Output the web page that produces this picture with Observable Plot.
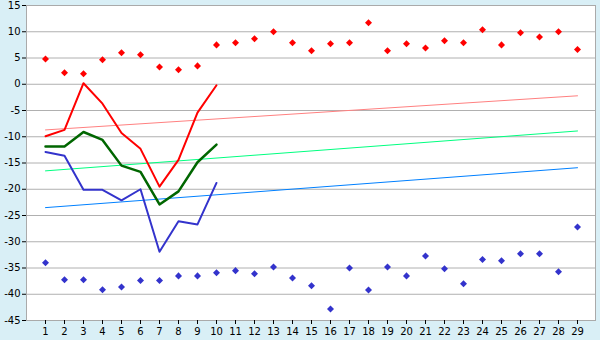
<!DOCTYPE html>
<html>
<head>
<meta charset="utf-8">
<script src="https://cdn.jsdelivr.net/npm/d3@7"></script>
<script src="https://cdn.jsdelivr.net/npm/@observablehq/plot@0.6"></script>
<style>
  html, body { margin: 0; padding: 0; background: #d9eff6; }
  #chart { width: 600px; height: 340px; }
</style>
</head>
<body>
<div id="chart"></div>
<script>
const days = d3.range(1, 30);
const yTicks = [15, 10, 5, 0, -5, -10, -15, -20, -25, -30, -35, -40, -45];

const redPoints = [4.8, 2.2, 2.0, 4.65, 6.0, 5.6, 3.3, 2.75, 3.5, 7.5, 7.9, 8.65, 10.0, 7.9,
  6.4, 7.7, 7.9, 11.7, 6.4, 7.7, 6.9, 8.3, 7.9, 10.4, 7.5, 9.8, 9.0, 10.0, 6.6];
const bluePoints = [-34.0, -37.25, -37.25, -39.15, -38.6, -37.4, -37.4, -36.5, -36.5, -35.9, -35.5, -36.1, -34.8, -36.9,
  -38.4, -42.8, -35.0, -39.2, -34.8, -36.5, -32.7, -35.15, -38.0, -33.4, -33.6, -32.3, -32.3, -35.7, -27.2];

const redLine = [-9.9, -8.7, 0.2, -3.7, -9.3, -12.3, -19.5, -14.4, -5.4, -0.2];
const greenLine = [-11.85, -11.85, -9.1, -10.6, -15.5, -16.7, -22.9, -20.4, -14.85, -11.5];
const blueLine = [-12.9, -13.6, -20.1, -20.1, -22.1, -20.0, -31.9, -26.1, -26.7, -18.8];

const trendDays = [1, 29];
const redTrend = [-8.7, -2.2];
const greenTrend = [-16.5, -8.9];
const blueTrend = [-23.5, -15.9];

const toPts = (vals, xs) => vals.map((v, i) => ({x: xs[i], y: v}));

const chart = Plot.plot({
  width: 600,
  height: 340,
  marginLeft: 26,
  marginRight: 5,
  marginTop: 5,
  marginBottom: 20,
  style: {background: "transparent", fontFamily: "DejaVu Sans, sans-serif", fontSize: "10px", color: "black"},
  x: {type: "point", domain: days, padding: 0.5, align: 0.5},
  y: {domain: [-45, 15]},
  marks: [
    Plot.frame({fill: "white", stroke: "none"}),
    Plot.gridY(yTicks, {stroke: "#b0b0b0", strokeOpacity: 1}),
    Plot.frame({stroke: "#aaaaaa", fill: "none"}),
    Plot.axisY(yTicks, {tickSize: 4, tickPadding: 2, stroke: "black", label: null, fontSize: 10, tickFormat: d => String(d)}),
    Plot.axisX(days, {tickSize: 4, tickPadding: 3, stroke: "black", label: null, fontSize: 10}),
    Plot.line(toPts(redTrend, trendDays), {x: "x", y: "y", stroke: "#ff8080", strokeWidth: 1}),
    Plot.line(toPts(greenTrend, trendDays), {x: "x", y: "y", stroke: "#00ff80", strokeWidth: 1}),
    Plot.line(toPts(blueTrend, trendDays), {x: "x", y: "y", stroke: "#0080ff", strokeWidth: 1}),
    Plot.line(toPts(redLine, days), {x: "x", y: "y", stroke: "#ff0000", strokeWidth: 2}),
    Plot.line(toPts(greenLine, days), {x: "x", y: "y", stroke: "#006600", strokeWidth: 2.5}),
    Plot.line(toPts(blueLine, days), {x: "x", y: "y", stroke: "#3333cc", strokeWidth: 2}),
    Plot.dot(toPts(redPoints, days), {x: "x", y: "y", symbol: "square", rotate: 45, r: 2.8, fill: "#ff0000", stroke: "none"}),
    Plot.dot(toPts(bluePoints, days), {x: "x", y: "y", symbol: "square", rotate: 45, r: 2.8, fill: "#3333cc", stroke: "none"})
  ]
});
document.getElementById("chart").appendChild(chart);
</script>
</body>
</html>
